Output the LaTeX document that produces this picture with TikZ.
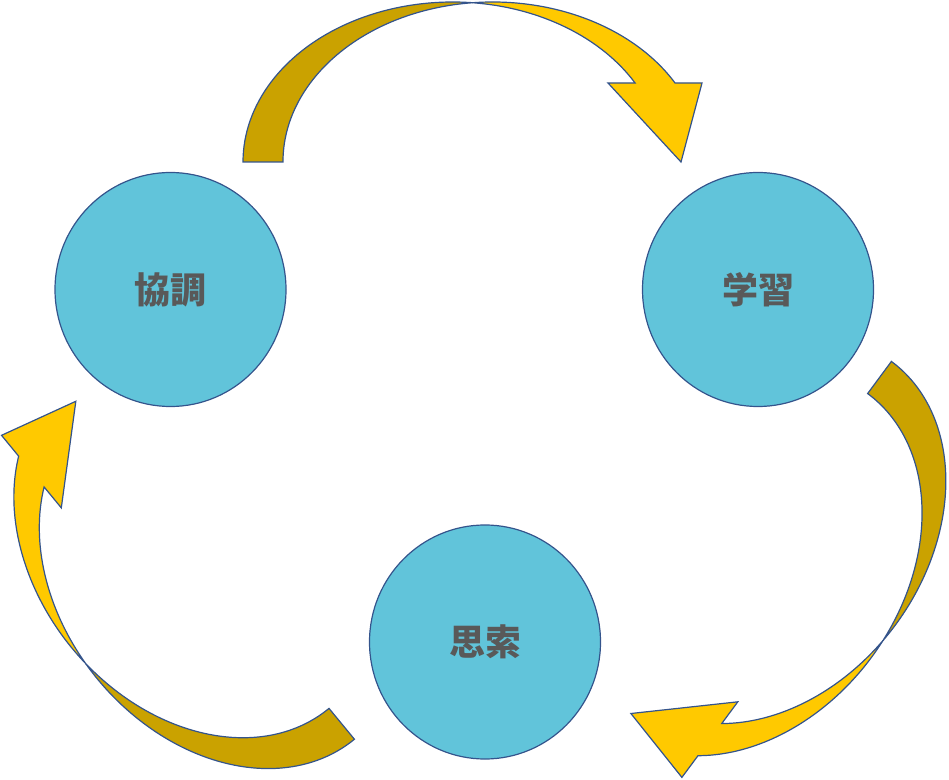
\documentclass[tikz,border=0pt]{standalone}
\usepackage{fontspec}
\newfontfamily\cjk{Noto Sans CJK JP}
\usetikzlibrary{shapes.geometric}
\definecolor{circfill}{RGB}{97,196,218}
\definecolor{edgeblue}{RGB}{52,84,140}
\definecolor{gold}{RGB}{255,201,0}
\definecolor{darkgold}{RGB}{202,162,0}
\definecolor{txtgray}{RGB}{89,89,89}
\tikzset{
  circ/.style={ellipse, minimum width=231pt, minimum height=234pt, inner sep=0pt,
    fill=circfill, draw=edgeblue, line width=1.2pt,
    font=\cjk\bfseries\fontsize{36}{40}\selectfont, text=txtgray},
  backband/.style={fill=darkgold, draw=edgeblue, line width=1.2pt, line join=miter},
  frontband/.style={fill=gold, draw=edgeblue, line width=1.2pt, line join=miter},
  pics/curvarrow/.style={code={
    \path[backband] (-20,0) arc[start angle=180,end angle=84.53,x radius=209.7,y radius=160]
      arc[start angle=95.47,end angle=180,x radius=209.7,y radius=160] -- cycle;
    \path[frontband] (209.7,159.27) arc[start angle=95.47,end angle=29.6,x radius=209.7,y radius=160]
      -- (439,79) -- (418,0) -- (345,79) -- (372.06,79)
      arc[start angle=29.6,end angle=84.53,x radius=209.7,y radius=160] -- cycle;
  }}
}
\begin{document}
\begin{tikzpicture}[x=1pt,y=1pt]
\useasboundingbox (0,0) rectangle (949,779);
% arrows
\begin{scope}[shift={(263,617)}]
  \pic[transform shape] {curvarrow};
\end{scope}
\begin{scope}[shift={(879.5,401.5)},rotate=-126.5]
  \pic[transform shape] {curvarrow};
\end{scope}
\begin{scope}[shift={(341.7,55.2)},rotate=129.5]
  \pic[transform shape] {curvarrow};
\end{scope}
% circles
\node[circ] (kyo) at (170.5,489.5) {協調};
\node[circ] (gaku) at (758,489.5) {学習};
\node[circ] (shi) at (485,137) {思索};
\end{tikzpicture}
\end{document}
